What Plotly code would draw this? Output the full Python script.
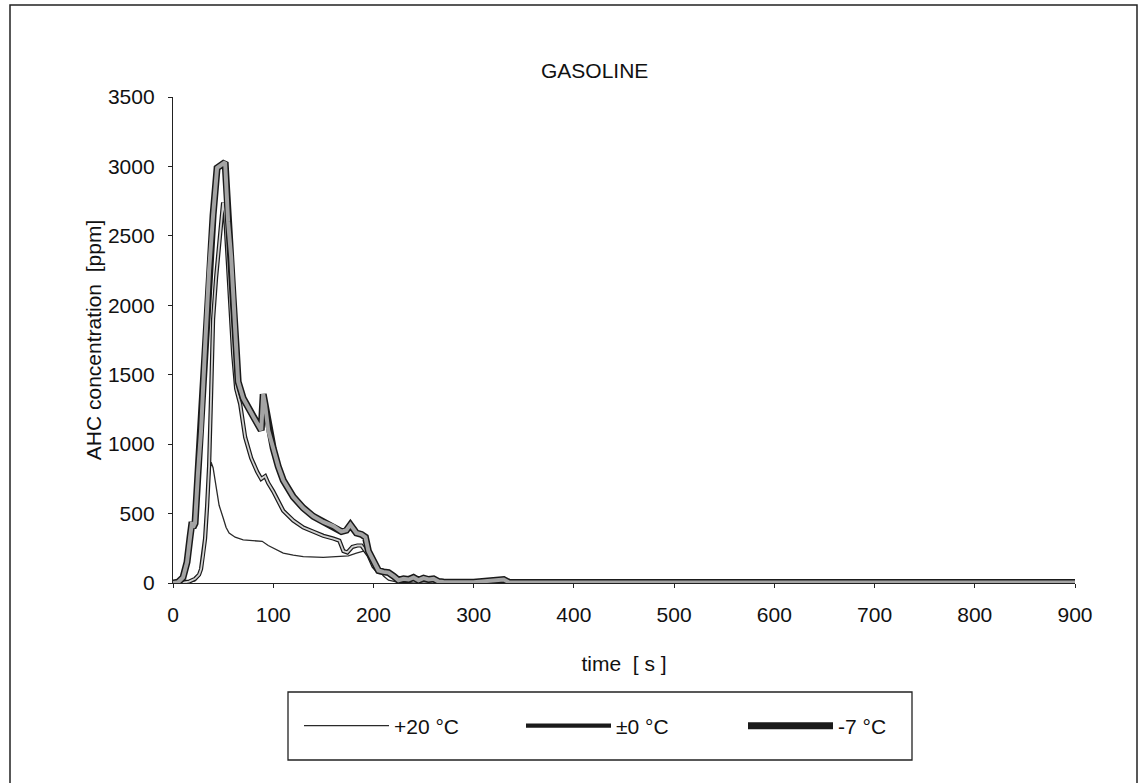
import plotly.graph_objects as go

# ---- data ----
title_text = "GASOLINE"
x_title = "time  [ s ]"
y_title = "AHC concentration  [ppm]"
x_ticks = [0, 100, 200, 300, 400, 500, 600, 700, 800, 900]
y_ticks = [0, 500, 1000, 1500, 2000, 2500, 3000, 3500]

series_names = ["+20 °C", "±0 °C", "-7 °C"]

t_p20 = [0, 15, 22, 27, 30, 33, 35, 38, 40, 43, 46, 50, 53, 56, 62, 70, 80, 89, 95,
         100, 110, 120, 130, 150, 165, 175, 183, 190, 195, 200, 205, 210, 215, 225,
         300, 900]
c_p20 = [0, 5, 15, 60, 200, 450, 700, 870, 830, 680, 560, 470, 400, 360, 330, 310,
         305, 300, 270, 250, 215, 200, 190, 185, 188, 195, 215, 230, 225, 160, 100,
         50, 20, 5, 3, 2]

t_0 = [0, 10, 16, 22, 26, 28, 30, 32, 34, 36, 38, 40, 43, 46, 50, 52, 54, 57, 60,
       63, 67, 72, 78, 84, 88, 92, 95, 100, 105, 110, 120, 130, 140, 150, 160, 166,
       170, 174, 179, 184, 188, 191, 195, 200, 205, 212, 218, 225, 240, 300, 400, 900]
c_0 = [0, 2, 10, 30, 60, 100, 200, 320, 550, 840, 1350, 1900, 2200, 2450, 2740,
       2650, 2400, 2000, 1650, 1400, 1290, 1050, 900, 800, 750, 770, 720, 660, 590,
       520, 450, 400, 370, 340, 320, 305, 230, 220, 260, 270, 270, 240, 200, 120, 80,
       75, 60, 20, 10, 5, 3, 3]

t_m7 = [0, 5, 10, 14, 17, 19, 20, 22, 25, 28, 32, 36, 40, 44, 52, 53, 55, 58, 60,
        63, 65, 70, 80, 88, 90, 92, 95, 100, 105, 110, 120, 130, 140, 150, 160, 168,
        173, 177, 180, 183, 188, 192, 195, 200, 205, 210, 215, 220, 225, 230, 235,
        240, 245, 250, 255, 260, 265, 270, 300, 330, 335, 400, 500, 600, 700, 800, 900]
c_m7 = [0, 5, 40, 150, 330, 440, 400, 430, 800, 1100, 1700, 2250, 2650, 2990, 3030,
        2900, 2600, 2350, 2050, 1700, 1450, 1330, 1200, 1100, 1360, 1280, 1100, 970,
        840, 740, 620, 540, 480, 440, 410, 370, 380, 420, 390, 360, 350, 330, 230,
        160, 90, 80, 75, 50, 20, 30, 25, 40, 20, 35, 25, 30, 10, 8, 6, 25, 6, 4, 5,
        4, 4, 5, 4]

FONT = "Liberation Sans, Arial, sans-serif"
FS = 21

fig = go.Figure()

# +20 °C : thin dark line
fig.add_trace(go.Scatter(x=t_p20, y=c_p20, mode="lines", name=series_names[0],
                         line=dict(color="#2a2a2a", width=1.3), showlegend=True))

# ±0 °C : outlined medium line
fig.add_trace(go.Scatter(x=t_0, y=c_0, mode="lines", name=series_names[1],
                         legendgroup="g0",
                         line=dict(color="#1a1a1a", width=4.2), showlegend=True))
fig.add_trace(go.Scatter(x=t_0, y=c_0, mode="lines", name=series_names[1],
                         legendgroup="g0",
                         line=dict(color="#d2d2d2", width=1.8), showlegend=False))

# -7 °C : outlined thick grey line
fig.add_trace(go.Scatter(x=t_m7, y=c_m7, mode="lines", name=series_names[2],
                         legendgroup="g7",
                         line=dict(color="#1a1a1a", width=7), showlegend=True))
fig.add_trace(go.Scatter(x=t_m7, y=c_m7, mode="lines", name=series_names[2],
                         legendgroup="g7",
                         line=dict(color="#a4a4a4", width=4), showlegend=False))

L, R, T, B = 173, 66, 97, 200
W, H = 1141, 783
pw = W - L - R
ph = H - T - B

def px_x(px):
    return (px - L) / pw

def px_y(py):
    return (H - B - py) / ph

fig.update_layout(
    width=W, height=H,
    margin=dict(l=L, r=R, t=T, b=B),
    paper_bgcolor="white", plot_bgcolor="white",
    font=dict(family=FONT, size=FS, color="#111"),
    xaxis=dict(range=[0, 900], tickvals=x_ticks, showgrid=False, zeroline=False,
               showline=True, linecolor="#222", linewidth=1.3,
               ticks="outside", ticklen=4, tickcolor="#222", ticklabelstandoff=9,
               title=dict(text=x_title, standoff=30, font=dict(size=FS))),
    yaxis=dict(range=[0, 3500], tickvals=y_ticks, showgrid=False, zeroline=False,
               showline=True, linecolor="#222", linewidth=1.3,
               ticks="outside", ticklen=4, tickcolor="#222", ticklabelstandoff=9,
               title=dict(text=y_title, standoff=0, font=dict(size=FS))),
    legend=dict(orientation="h", x=px_x(299), xanchor="left",
                y=px_y(726), yanchor="middle",
                borderwidth=0, bgcolor="rgba(0,0,0,0)",
                font=dict(size=FS), itemwidth=85, entrywidth=122),
    annotations=[dict(text=title_text, x=px_x(594), y=px_y(71), xref="paper",
                      yref="paper", xanchor="center", yanchor="middle",
                      showarrow=False, font=dict(size=FS))],
    shapes=[
        # outer frame (bottom edge falls outside the picture)
        dict(type="rect", xref="paper", yref="paper",
             x0=px_x(10), x1=px_x(1137), y0=px_y(800), y1=px_y(5),
             line=dict(color="#222", width=1.5), layer="below"),
        # legend box
        dict(type="rect", xref="paper", yref="paper",
             x0=px_x(288), x1=px_x(912), y0=px_y(760), y1=px_y(692),
             line=dict(color="#222", width=1.3), layer="below"),
    ],
)

fig.write_html("out.html")
